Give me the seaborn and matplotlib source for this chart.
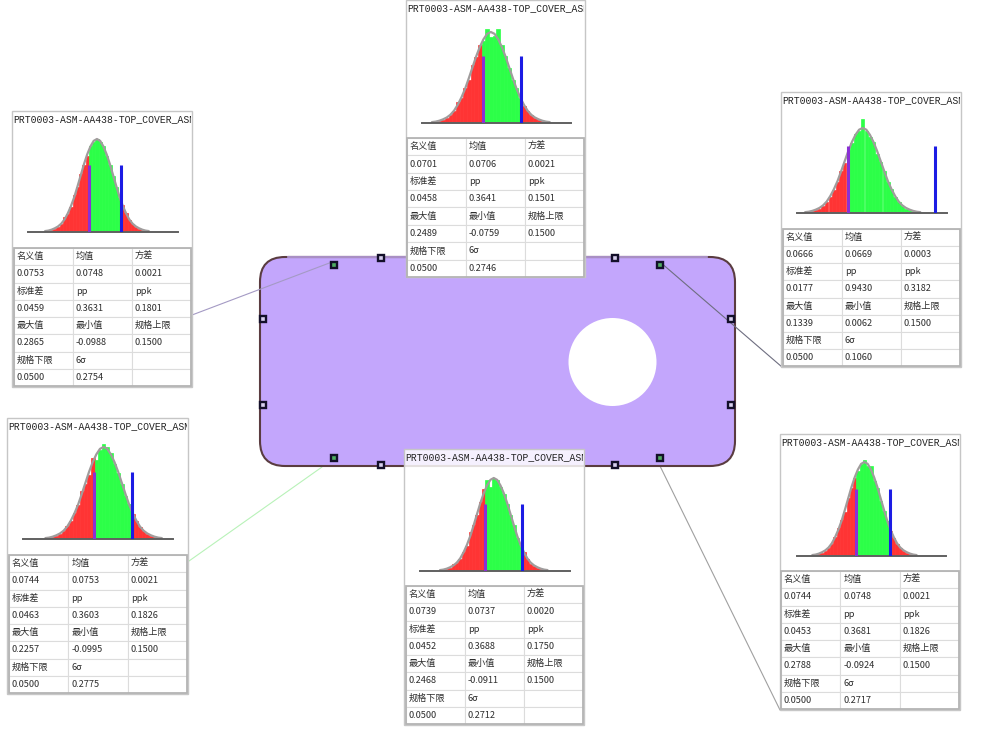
import numpy as np
import matplotlib
matplotlib.use("Agg")
import matplotlib.pyplot as plt
from matplotlib.patches import FancyBboxPatch, Circle, Rectangle
import seaborn as sns

# spec limits, same in all tables
lsl = 0.05
usl = 0.15

# histogram bins and fitted curve, in sigma around the mean
bin_z = [-3.2, -3.0, -2.8, -2.6, -2.4, -2.2, -2.0, -1.8, -1.6, -1.4, -1.2, -1.0, -0.8, -0.6, -0.4, -0.2, 0.0,
         0.2, 0.4, 0.6, 0.8, 1.0, 1.2, 1.4, 1.6, 1.8, 2.0, 2.2, 2.4, 2.6, 2.8, 3.0, 3.2]
curve_y = [0.01, 0.015, 0.025, 0.04, 0.06, 0.09, 0.135, 0.2, 0.28, 0.375, 0.49, 0.61, 0.73, 0.835, 0.92, 0.98, 1.0,
           0.98, 0.92, 0.835, 0.73, 0.61, 0.49, 0.375, 0.28, 0.2, 0.135, 0.09, 0.06, 0.04, 0.025, 0.015, 0.01]

h_top = [0.0, 0.01, 0.02, 0.03, 0.05, 0.09, 0.13, 0.23, 0.27, 0.39, 0.47, 0.64, 0.72, 0.86, 0.9, 1.03, 0.94,
         0.96, 1.03, 0.86, 0.74, 0.6, 0.47, 0.38, 0.27, 0.19, 0.13, 0.09, 0.05, 0.03, 0.02, 0.01, 0.0]
h_right = [0.0, 0.01, 0.02, 0.03, 0.05, 0.08, 0.13, 0.19, 0.27, 0.36, 0.5, 0.59, 0.74, 0.82, 0.93, 0.97, 1.1,
           0.97, 0.9, 0.84, 0.7, 0.6, 0.49, 0.37, 0.28, 0.19, 0.13, 0.08, 0.05, 0.03, 0.02, 0.01, 0.0]
h_left = [0.0, 0.01, 0.02, 0.03, 0.05, 0.09, 0.16, 0.19, 0.27, 0.4, 0.48, 0.62, 0.72, 0.82, 0.93, 0.97, 1.0,
          0.97, 0.92, 0.82, 0.72, 0.6, 0.48, 0.37, 0.29, 0.2, 0.13, 0.09, 0.05, 0.03, 0.02, 0.01, 0.0]
h_left_low = [0.0, 0.01, 0.02, 0.03, 0.05, 0.09, 0.14, 0.2, 0.28, 0.37, 0.52, 0.6, 0.7, 0.88, 0.86, 0.97, 1.03,
              1.0, 0.93, 0.82, 0.72, 0.6, 0.47, 0.38, 0.27, 0.2, 0.13, 0.09, 0.05, 0.03, 0.02, 0.01, 0.0]
h_bottom = [0.0, 0.01, 0.02, 0.03, 0.07, 0.09, 0.13, 0.2, 0.27, 0.42, 0.5, 0.6, 0.74, 0.88, 0.98, 0.9, 1.0,
            0.98, 0.9, 0.83, 0.72, 0.6, 0.49, 0.36, 0.28, 0.2, 0.13, 0.08, 0.05, 0.03, 0.02, 0.01, 0.0]
h_right_low = [0.0, 0.01, 0.02, 0.03, 0.05, 0.08, 0.13, 0.2, 0.3, 0.38, 0.47, 0.62, 0.72, 0.83, 0.9, 0.98, 1.02,
               0.96, 0.96, 0.8, 0.72, 0.58, 0.48, 0.37, 0.27, 0.19, 0.13, 0.09, 0.05, 0.03, 0.02, 0.01, 0.0]

# table values: nominal, mean, variance, std, pp, ppk, max, min, usl, lsl, 6 sigma
row_labels = [["名义值", "均值", "方差"], ["标准差", "pp", "ppk"], ["最大值", "最小值", "规格上限"], ["规格下限", "6σ", ""]]
v_top = ["0.0701", "0.0706", "0.0021", "0.0458", "0.3641", "0.1501", "0.2489", "-0.0759", "0.1500", "0.0500", "0.2746"]
v_right = ["0.0666", "0.0669", "0.0003", "0.0177", "0.9430", "0.3182", "0.1339", "0.0062", "0.1500", "0.0500", "0.1060"]
v_left = ["0.0753", "0.0748", "0.0021", "0.0459", "0.3631", "0.1801", "0.2865", "-0.0988", "0.1500", "0.0500", "0.2754"]
v_left_low = ["0.0744", "0.0753", "0.0021", "0.0463", "0.3603", "0.1826", "0.2257", "-0.0995", "0.1500", "0.0500", "0.2775"]
v_bottom = ["0.0739", "0.0737", "0.0020", "0.0452", "0.3688", "0.1750", "0.2468", "-0.0911", "0.1500", "0.0500", "0.2712"]
v_right_low = ["0.0744", "0.0748", "0.0021", "0.0453", "0.3681", "0.1826", "0.2788", "-0.0924", "0.1500", "0.0500", "0.2717"]

title = "PRT0003-ASM-AA438-TOP_COVER_ASM"

# layout in pixels: panel box, table box, axis line ends, baseline, peak, line top, lsl and usl x, sigma width
panels = [
    dict(h=h_top, v=v_top, box=(406, 0, 585, 277), tab=(407, 138, 584, 277), ax=(422, 571), base=123, peak=32, top=56, spec=(483, 521), sig=18.4),
    dict(h=h_right, v=v_right, box=(781, 92, 961, 367), tab=(783, 229, 960, 366), ax=(797, 947), base=213, peak=128, top=146, spec=(848, 935), sig=18.0),
    dict(h=h_left, v=v_left, box=(12, 111, 192, 387), tab=(14, 248, 191, 386), ax=(28, 178), base=232, peak=139, top=165, spec=(89, 121), sig=16.2),
    dict(h=h_left_low, v=v_left_low, box=(7, 418, 188, 694), tab=(9, 555, 187, 693), ax=(23, 173), base=539, peak=447, top=472, spec=(94, 132), sig=18.2),
    dict(h=h_bottom, v=v_bottom, box=(404, 449, 584, 725), tab=(406, 586, 583, 724), ax=(420, 570), base=571, peak=478, top=504, spec=(485, 522), sig=16.8),
    dict(h=h_right_low, v=v_right_low, box=(780, 434, 960, 710), tab=(781, 571, 959, 709), ax=(797, 946), base=556, peak=462, top=489, spec=(856, 890), sig=16.3),
]

W, H = 986, 743
sns.set_style("white")
plt.rcParams["font.family"] = ["Noto Sans CJK SC", "DejaVu Sans"]

fig = plt.figure(figsize=(W / 100, H / 100), dpi=100, facecolor="white")


def px_axes(x0, y0, x1, y1, zorder=3):
    # axes from pixel box, y down
    return fig.add_axes([x0 / W, 1 - y1 / H, (x1 - x0) / W, (y1 - y0) / H], zorder=zorder)


back = px_axes(0, 0, W, H, zorder=0)
back.set_xlim(0, W)
back.set_ylim(H, 0)
back.axis("off")

# leader lines
back.plot([192, 332], [315, 262], color="#a49ac4", lw=0.8, zorder=5)
back.plot([189, 322], [561, 467], color="#b8f2b8", lw=0.8, zorder=1)
back.plot([660, 782], [262, 367], color="#6e6e80", lw=0.8, zorder=5)
back.plot([660, 780], [466, 710], color="#a0a0a0", lw=0.8, zorder=1)

# the part
back.add_patch(FancyBboxPatch((285, 282), 425, 159, boxstyle="round,pad=25,rounding_size=25",
                              facecolor="#c3a6fc", edgecolor="#5a3c40", lw=1.5, zorder=2))
back.plot([288, 707], [257, 257], color="#a98fc4", lw=1.6, zorder=2.5)
back.add_patch(Circle((612.5, 362), 44, facecolor="white", edgecolor="none", zorder=3))

# handles
for hx, hy, col in [(334, 265, "#4fae62"), (381, 258, "#d8d0ee"), (263, 319, "#d8d0ee"), (263, 405, "#d8d0ee"),
                    (334, 458, "#4fae62"), (381, 465, "#d8d0ee"), (615, 258, "#d8d0ee"), (660, 265, "#4fae62"),
                    (731, 319, "#d8d0ee"), (731, 405, "#d8d0ee"), (615, 465, "#d8d0ee"), (660, 458, "#4fae62")]:
    back.add_patch(Rectangle((hx - 2.8, hy - 2.8), 5.6, 5.6, facecolor=col, edgecolor="#14102a", lw=1.7, zorder=6))

for p in panels:
    bx0, by0, bx1, by1 = p["box"]
    back.add_patch(Rectangle((bx0, by0), bx1 - bx0, by1 - by0, facecolor=(1, 1, 1, 0.84),
                             edgecolor="#c6c6c6", lw=1.0, zorder=7))

    tit = px_axes(bx0 + 1, by0 + 1, bx1 - 1, by0 + 16, zorder=4)
    tit.axis("off")
    tit.text(0.0, 0.5, title, transform=tit.transAxes, family="Liberation Mono", fontsize=7,
             color="#222222", va="center", ha="left", clip_on=True)

    # histogram, value axis fitted so spec lines land on the picture
    mean = float(p["v"][1])
    scale = (p["spec"][1] - p["spec"][0]) / (usl - lsl)
    sd = p["sig"] / scale
    xlim = (lsl + (p["ax"][0] - p["spec"][0]) / scale, lsl + (p["ax"][1] - p["spec"][0]) / scale)
    peak_px = p["base"] - p["peak"]
    ylim_top = 1.2
    ax = px_axes(p["ax"][0], p["base"] - peak_px * ylim_top, p["ax"][1], p["base"])
    ax.patch.set_alpha(0)
    xs = [round(mean + z * sd, 5) for z in bin_z]
    zones = ["in" if lsl <= x <= usl else "out" for x in xs]
    sns.barplot(x=xs, y=p["h"], hue=zones, palette={"in": "#2cff48", "out": "#ff3434"}, native_scale=True,
                dodge=False, width=1, saturation=1, legend=False, ax=ax)
    # close the slits between neighbouring bars
    for bar in ax.patches:
        bar.set_edgecolor(bar.get_facecolor())
        bar.set_linewidth(0.5)
    sns.lineplot(x=xs, y=curve_y, color="#a09c9c", linewidth=1.6, errorbar=None, ax=ax)
    line_h = (p["base"] - p["top"]) / peak_px
    ax.vlines(lsl, 0, line_h, color="#8a30d4", lw=2.2, zorder=5)
    ax.vlines(usl, 0, line_h, color="#1c1ce4", lw=2.2, zorder=5)
    ax.set_xlim(*xlim)
    ax.set_ylim(0, ylim_top)
    ax.set(xlabel="", ylabel="", xticks=[], yticks=[])
    sns.despine(ax=ax, left=True)
    ax.spines["bottom"].set_color("#606060")
    ax.spines["bottom"].set_linewidth(1.4)

    # table
    tab = px_axes(*p["tab"])
    tab.axis("off")
    v = p["v"]
    cells = [row_labels[0], v[0:3], row_labels[1], v[3:6], row_labels[2], v[6:9], row_labels[3], [v[9], v[10], ""]]
    t = tab.table(cellText=cells, bbox=[0, 0, 1, 1], cellLoc="left")
    t.auto_set_font_size(False)
    t.set_fontsize(6.6)
    for cell in t.get_celld().values():
        cell.PAD = 0.05
        cell.set_edgecolor("#dcdcdc")
        cell.set_linewidth(0.8)
        cell.set_facecolor("white")
        cell.get_text().set_color("#2e2e2e")
    tab.add_patch(Rectangle((0, 0), 1, 1, transform=tab.transAxes, facecolor="none", edgecolor="#b4b4b4",
                            lw=1.3, zorder=20, clip_on=False))

fig.savefig("out.png", dpi=100)
